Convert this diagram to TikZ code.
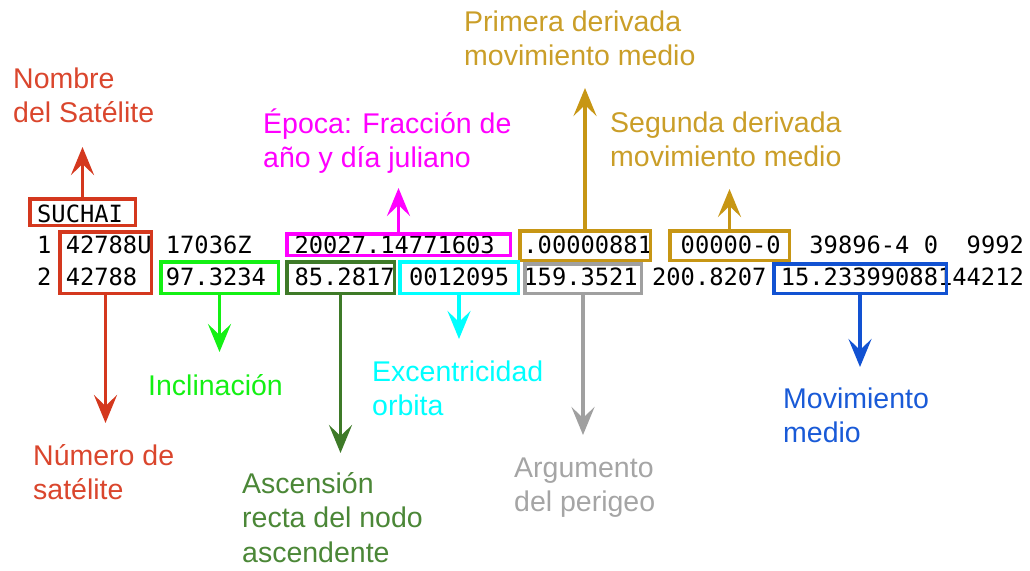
\documentclass[tikz,border=0pt]{standalone}
\usepackage{fontspec}
\setmainfont{Liberation Sans}
\newfontfamily\monofont{DejaVu Sans Mono}
\usetikzlibrary{arrows.meta}
\definecolor{cred}{RGB}{212,56,30}
\definecolor{credtxt}{RGB}{218,70,45}
\definecolor{cmag}{RGB}{255,0,255}
\definecolor{cgold}{RGB}{199,150,20}
\definecolor{cgoldtxt}{RGB}{202,158,40}
\definecolor{cgreen}{RGB}{20,240,20}
\definecolor{cdkgreen}{RGB}{62,122,40}
\definecolor{cdkgreentxt}{RGB}{75,135,55}
\definecolor{ccyan}{RGB}{0,255,255}
\definecolor{cgray}{RGB}{160,160,160}
\definecolor{cgraytxt}{RGB}{165,165,165}
\definecolor{cblue}{RGB}{18,82,210}
\definecolor{cbluetxt}{RGB}{25,90,215}
\begin{document}
\begin{tikzpicture}[x=1pt,y=-1pt,
  tok/.style={font=\monofont\fontsize{23.75}{28}\selectfont, anchor=base west, inner sep=0pt, text=black},
  fieldbox/.style={draw=#1, line width=3.5pt, inner sep=0pt},
  lbl/.style={font=\fontsize{28.5}{34.5}\selectfont, anchor=base west, inner sep=0pt, text=#1},
  arr/.style={draw=#1, line width=3.5pt, -{Stealth[length=28pt,width=23pt,inset=11pt]}}]
\useasboundingbox (0,0) rectangle (1030,570);
% line 0
\node[tok] (t0) at (37,222) {SUCHAI};
% line 1
\node[tok] (t1a) at (37,253) {1};
\node[tok] (t1b) at (65.6,253) {42788U};
\node[tok] (t1c) at (165.7,253) {17036Z};
\node[tok] (t1d) at (294.4,253) {20027.14771603};
\node[tok] (t1e) at (523.2,253) {.00000881};
\node[tok] (t1f) at (680.5,253) {00000-0};
\node[tok] (t1g) at (809.2,253) {39896-4};
\node[tok] (t1h) at (923.6,253) {0};
\node[tok] (t1i) at (966.5,253) {9992};
% line 2
\node[tok] (t2a) at (37,285) {2};
\node[tok] (t2b) at (65.6,285) {42788};
\node[tok] (t2c) at (165.7,285) {97.3234};
\node[tok] (t2d) at (294.4,285) {85.2817};
\node[tok] (t2e) at (408.8,285) {0012095};
\node[tok] (t2f) at (523.2,285) {159.3521};
\node[tok] (t2g) at (651.9,285) {200.8207};
\node[tok] (t2h) at (780.6,285) {15.23399088144212};
% boxes
\node[fieldbox=cred, minimum width=105.5pt, minimum height=26.5pt] (bname) at (82.5,212) {};
\node[fieldbox=cred, minimum width=91.5pt, minimum height=61.5pt] (bnum) at (105.5,262.5) {};
\node[fieldbox=cmag, minimum width=223.5pt, minimum height=21.5pt] (bepoch) at (398.5,244.5) {};
\node[fieldbox=cgold, minimum width=130.5pt, minimum height=29.5pt] (bd1) at (585,245.5) {};
\node[fieldbox=cgold, minimum width=119.5pt, minimum height=29.5pt] (bd2) at (729.5,245.5) {};
\node[fieldbox=cgreen, minimum width=117.5pt, minimum height=31.5pt] (binc) at (219.5,277.5) {};
\node[fieldbox=cdkgreen, minimum width=107.5pt, minimum height=31.5pt] (braan) at (340.5,277.5) {};
\node[fieldbox=ccyan, minimum width=118.5pt, minimum height=31.5pt] (becc) at (459,277.5) {};
\node[fieldbox=cgray, minimum width=116.5pt, minimum height=29.5pt] (bperi) at (583,278.5) {};
\node[fieldbox=cblue, minimum width=172.5pt, minimum height=29.5pt] (bmm) at (860,278.5) {};
% arrow tips
\coordinate (tname) at (82.5,147);
\coordinate (tepoch) at (398.5,188);
\coordinate (td1) at (585,88);
\coordinate (td2) at (729.5,189);
\coordinate (tnum) at (105.5,423);
\coordinate (tinc) at (219.5,352);
\coordinate (traan) at (340.5,453);
\coordinate (tecc) at (459,339);
\coordinate (tperi) at (583,435);
\coordinate (tmm) at (860,367);
% arrows
\draw[arr=cred] (bname.north) -- (tname);
\draw[arr=cmag] (bepoch.north) -- (tepoch);
\draw[arr=cgold] (bd1.north) -- (td1);
\draw[arr=cgold] (bd2.north) -- (td2);
\draw[arr=cred] (bnum.south) -- (tnum);
\draw[arr=cgreen] (binc.south) -- (tinc);
\draw[arr=cdkgreen] (braan.south) -- (traan);
\draw[arr=ccyan] (becc.south) -- (tecc);
\draw[arr=cgray] (bperi.south) -- (tperi);
\draw[arr=cblue] (bmm.south) -- (tmm);
% labels
\node[lbl=credtxt] (lname) at (13,88) {\begin{tabular}[t]{@{}l@{}}Nombre\\del Satélite\end{tabular}};
\node[lbl=cmag] (lepoch) at (263,133) {\begin{tabular}[t]{@{}l@{}}Época: Fracción de\\año y día juliano\end{tabular}};
\node[lbl=cgoldtxt] (lprim) at (464,31) {\begin{tabular}[t]{@{}l@{}}Primera derivada\\movimiento medio\end{tabular}};
\node[lbl=cgoldtxt] (lseg) at (610,132) {\begin{tabular}[t]{@{}l@{}}Segunda derivada\\movimiento medio\end{tabular}};
\node[lbl=cgreen] (linc) at (148,395) {Inclinación};
\node[lbl=credtxt] (lnum) at (33,465) {\begin{tabular}[t]{@{}l@{}}Número de\\satélite\end{tabular}};
\node[lbl=cdkgreentxt] (lraan) at (242,493) {\begin{tabular}[t]{@{}l@{}}Ascensión\\recta del nodo\\ascendente\end{tabular}};
\node[lbl=ccyan] (lecc) at (372,381) {\begin{tabular}[t]{@{}l@{}}Excentricidad\\orbita\end{tabular}};
\node[lbl=cgraytxt] (lperi) at (514,477) {\begin{tabular}[t]{@{}l@{}}Argumento\\del perigeo\end{tabular}};
\node[lbl=cbluetxt] (lmm) at (783,408) {\begin{tabular}[t]{@{}l@{}}Movimiento\\medio\end{tabular}};
\end{tikzpicture}
\end{document}
